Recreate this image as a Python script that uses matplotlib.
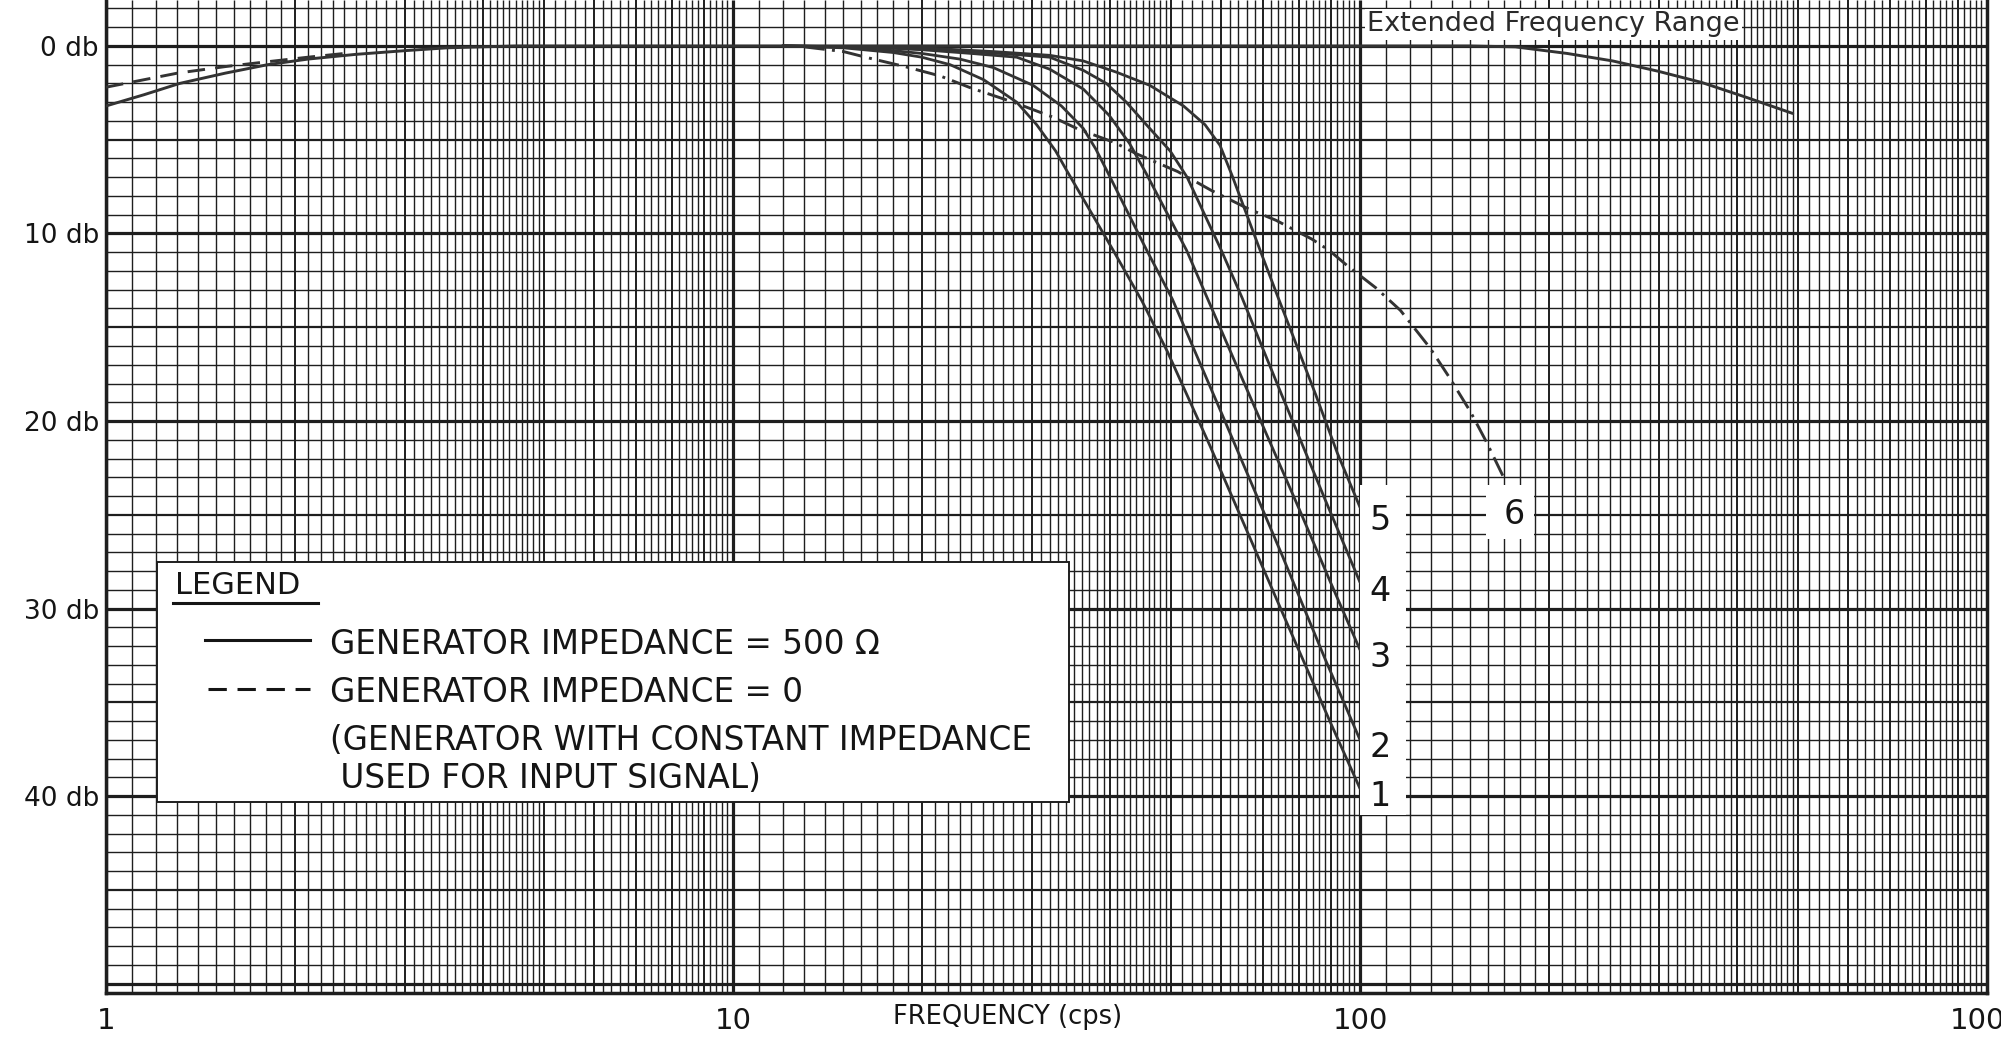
import numpy as np
import matplotlib
matplotlib.use("Agg")
import matplotlib.pyplot as plt
from matplotlib.patches import Rectangle
from matplotlib.lines import Line2D

# ---- data (frequency in cps, attenuation in db) ----
ext_freq = [1, 1.15, 1.31, 1.55, 1.81, 2.1, 2.5, 3.0, 3.5, 4.5, 10, 50, 100, 150, 177,
            214, 253, 299, 351, 414, 490]
ext_db = [3.2, 2.6, 2.0, 1.45, 1.0, 0.7, 0.45, 0.25, 0.1, 0.0, 0.0, 0.0, 0.0, 0.0, 0.05,
          0.4, 0.8, 1.35, 1.95, 2.75, 3.6]

lf_dash_freq = [1, 1.15, 1.3, 1.55, 1.8, 2.1, 2.4]
lf_dash_db = [2.2, 1.8, 1.45, 1.1, 0.85, 0.6, 0.4]

c1_freq = [12, 15, 18, 20, 22.2, 25.1, 28.35, 30.5, 32.7, 34.0, 40.4, 44.9, 49.3, 57.6, 66.1, 76.3, 89.5, 100]
c1_db = [0, 0.1, 0.35, 0.6, 1.0, 1.8, 3.0, 4.2, 5.6, 6.6, 10.9, 13.6, 16.3, 21.3, 25.9, 30.7, 36.0, 39.6]

c2_freq = [12, 15, 18, 20, 23, 26, 30.1, 33.4, 36.2, 37.9, 39.4, 45.7, 50.2, 60, 75, 88, 100]
c2_db = [0, 0.05, 0.25, 0.4, 0.7, 1.15, 2.1, 3.2, 4.4, 5.5, 6.6, 10.9, 13.5, 19.5, 27.1, 32.7, 37.0]

c3_freq = [12, 16, 20, 24, 28.35, 32, 36.2, 39.8, 42.9, 45.6, 52.9, 57.0, 65, 80, 90, 100]
c3_db = [0, 0.05, 0.2, 0.4, 0.6, 1.24, 2.3, 3.7, 5.2, 6.8, 10.9, 13.4, 17.8, 24.7, 28.7, 32.2]

c4_freq = [12, 18, 24, 28, 32, 36.2, 39.4, 42.4, 46.2, 49.8, 53.0, 60.1, 64.8, 75, 88, 100]
c4_db = [0, 0.1, 0.3, 0.45, 0.6, 1.3, 2.0, 3.0, 4.4, 5.6, 7.0, 10.9, 13.4, 18.6, 24.2, 28.6]

c5_freq = [12, 20, 26, 32, 36.2, 40.9, 46.2, 52.3, 56.6, 59.8, 62.5, 69.3, 74.0, 85, 92, 100]
c5_db = [0, 0.1, 0.3, 0.5, 0.8, 1.4, 2.1, 3.2, 4.2, 5.3, 6.9, 10.9, 13.4, 18.6, 21.7, 24.6]

c6_freq = [13, 15, 16.5, 18.8, 21.4, 24.0, 28.0, 32.4, 35.6, 40.6, 44.0, 51.2, 57.9, 66.5,
           73.5, 83.8, 89.3, 95.3, 106, 116, 129.3, 139, 150, 159, 170]
c6_db = [0.05, 0.3, 0.65, 1.1, 1.6, 2.25, 3.0, 3.8, 4.45, 5.15, 5.75, 6.7, 7.7, 8.7,
         9.3, 10.3, 10.9, 11.7, 12.9, 14.1, 16.1, 17.7, 19.5, 21.1, 23.1]

curve_freqs = [c1_freq, c2_freq, c3_freq, c4_freq, c5_freq]
curve_dbs = [c1_db, c2_db, c3_db, c4_db, c5_db]
curve_labels = ["5", "4", "3", "2", "1"]
curve_label_db = [25.3, 29.1, 32.6, 37.4, 40.0]

y_ticks = [0, 10, 20, 30, 40]
y_tick_labels = ["0 db", "10 db", "20 db", "30 db", "40 db"]
x_ticks = [1, 10, 100, 1000]
x_tick_labels = ["1", "10", "100", "1000"]

legend_lines = ["GENERATOR IMPEDANCE = 500 Ω", "GENERATOR IMPEDANCE = 0",
                "(GENERATOR WITH CONSTANT IMPEDANCE", " USED FOR INPUT SIGNAL)"]

# ---- figure ----
W, H = 2001, 1045
fig = plt.figure(figsize=(W / 100, H / 100), dpi=100)
ax = fig.add_axes([106 / W, 1 - 993 / H, 1881 / W, 993 / H])
ax.set_xscale("log")
ax.set_xlim(1, 1000)
ax.set_ylim(50.5, -2.45)

ink = "#1e1e1e"
curve_ink = "#333333"
text_ink = "#151515"

# graph paper grid
ymin, ymax = -2.45, 50.5
for dec in (1, 10, 100):
    fine = list(np.arange(1.1, 5.0, 0.1)) + list(np.arange(5.2, 10.0, 0.2))
    for m in fine:
        if abs(m - round(m)) < 1e-6:
            continue
        ax.vlines(m * dec, ymin, ymax, color=ink, lw=1.0, zorder=1)
    for m in range(2, 10):
        ax.vlines(m * dec, ymin, ymax, color=ink, lw=1.4, zorder=1)
    ax.vlines(dec, ymin, ymax, color=ink, lw=2.3, zorder=1)

for d in range(-2, 51):
    if d % 10 == 0:
        lw = 2.3
    elif d % 5 == 0:
        lw = 1.6
    else:
        lw = 1.0
    ax.hlines(d, 1, 1000, color=ink, lw=lw, zorder=1)

for side in ("left", "bottom", "right"):
    ax.spines[side].set_linewidth(2.5)
    ax.spines[side].set_color(ink)
ax.spines["top"].set_visible(False)

# curves
ax.plot(ext_freq, ext_db, color=curve_ink, lw=2.1, zorder=3, solid_capstyle="round")
ax.plot(lf_dash_freq, lf_dash_db, color=curve_ink, lw=2.1, dashes=(6, 3.5), zorder=3)
for f, d in zip(curve_freqs, curve_dbs):
    ax.plot(f, d, color=curve_ink, lw=2.0, zorder=3, solid_capstyle="round")
ax.plot(c6_freq, c6_db, color=curve_ink, lw=2.1, dashes=(7, 2.5, 1, 2.5), zorder=3)

# ticks
ax.set_yticks(y_ticks)
ax.set_yticklabels(y_tick_labels, fontsize=19)
ax.set_xticks(x_ticks)
ax.set_xticklabels(x_tick_labels, fontsize=21)
ax.minorticks_off()
ax.tick_params(axis="y", length=0, pad=5, colors=text_ink)
ax.tick_params(axis="x", length=0, pad=10, colors=text_ink)

fig.text(1008 / W, 1 - 1017 / H, "FREQUENCY (cps)", fontsize=18.5, ha="center",
         va="center", color=text_ink)

# number labels for the curves
ax.add_patch(Rectangle((100, 23.4), 18.6, 17.6, facecolor="white", edgecolor="none", zorder=4))
for lab, d in zip(curve_labels, curve_label_db):
    ax.text(107.5, d, lab, fontsize=24, ha="center", va="center", color=text_ink, zorder=5)
ax.add_patch(Rectangle((158.9, 23.4), 30.5, 2.9, facecolor="white", edgecolor="none", zorder=4))
ax.text(175.9, 25.0, "6", fontsize=24, ha="center", va="center", color=text_ink, zorder=5)

ax.text(102.5, -1.15, "Extended Frequency Range", fontsize=19.5, ha="left", va="center",
        color="#2a2a2a", zorder=5,
        bbox=dict(facecolor="white", edgecolor="none", pad=1.5))


# legend box (pixel positions converted to axes fractions)
def to_ax(px, py):
    return (px - 106) / 1881, (993 - py) / 993


x0, y0 = to_ax(157, 802)
x1, y1 = to_ax(1069, 562)
ax.add_patch(Rectangle((x0, y0), x1 - x0, y1 - y0, transform=ax.transAxes,
                       facecolor="white", edgecolor=ink, lw=1.4, zorder=6))
tx, ty = to_ax(175, 586)
ax.text(tx, ty, "LEGEND", transform=ax.transAxes, fontsize=22, ha="left", va="center",
        color=text_ink, zorder=7)
ux0, uy = to_ax(173, 603)
ux1, _ = to_ax(318, 603)
ax.add_line(Line2D([ux0, ux1], [uy, uy], transform=ax.transAxes, color=text_ink, lw=2.2, zorder=7))

sx0, sy = to_ax(205, 640)
sx1, _ = to_ax(310, 640)
ax.add_line(Line2D([sx0, sx1], [sy, sy], transform=ax.transAxes, color=text_ink, lw=2.2, zorder=7))
dx0, dy = to_ax(208, 689)
dx1, _ = to_ax(310, 689)
ax.add_line(Line2D([dx0, dx1], [dy, dy], transform=ax.transAxes, color=text_ink, lw=2.2,
                   dashes=(6, 3.5), zorder=7))

text_y = [645, 692, 741, 779]
for s, py in zip(legend_lines, text_y):
    lx, ly = to_ax(330, py)
    ax.text(lx, ly, s, transform=ax.transAxes, fontsize=23.5, ha="left", va="center",
            color=text_ink, zorder=7)

fig.savefig("out.png", dpi=100, facecolor="white")
